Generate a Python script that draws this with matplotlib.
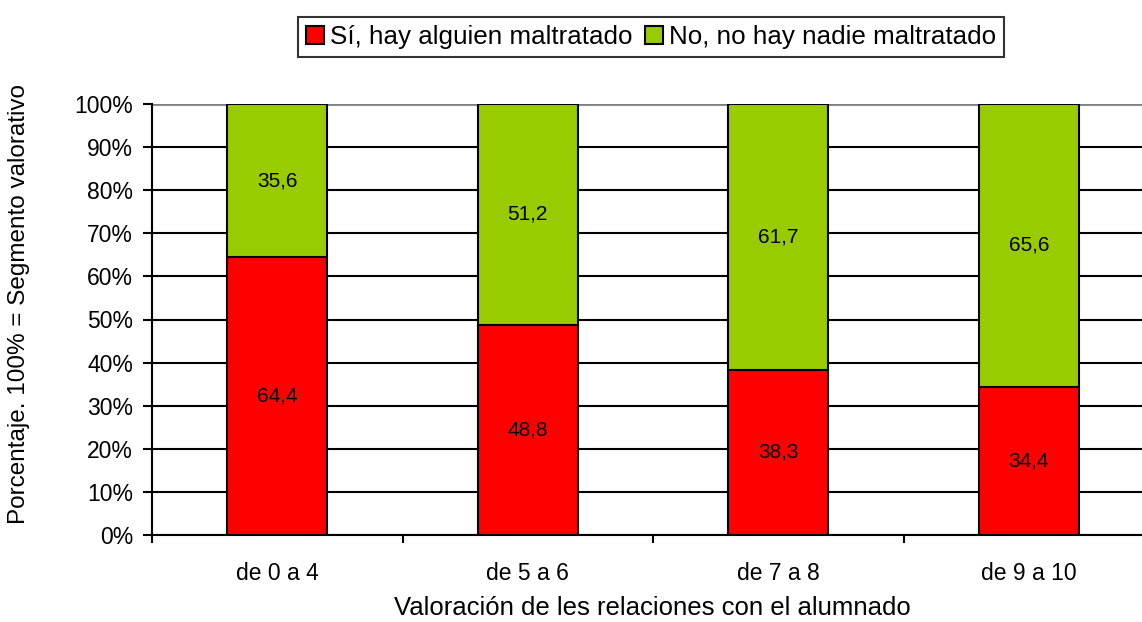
import numpy as np
import matplotlib
matplotlib.use("Agg")
import matplotlib.pyplot as plt
from matplotlib.ticker import FixedLocator, FuncFormatter

plt.rcParams['font.family'] = ['Liberation Sans', 'DejaVu Sans']

categorias = ["de 0 a 4", "de 5 a 6", "de 7 a 8", "de 9 a 10"]
si_maltratado = [64.4, 48.8, 38.3, 34.4]
no_maltratado = [35.6, 51.2, 61.7, 65.6]
etiquetas_serie = ["Sí, hay alguien maltratado", "No, no hay nadie maltratado"]

W, H = 1142, 622
fig = plt.figure(figsize=(W / 100, H / 100), dpi=100)
# axes runs past the right edge of the image, like the original
ax = fig.add_axes([152 / W, 1 - 535 / H, (1154 - 152) / W, (535 - 104) / H])

x = np.arange(len(categorias))
ancho = 0.4
b1 = ax.bar(x, si_maltratado, ancho, color='#ff0000', edgecolor='black',
            linewidth=1.5, label=etiquetas_serie[0], zorder=3)
b2 = ax.bar(x, no_maltratado, ancho, bottom=si_maltratado, color='#99cc00',
            edgecolor='black', linewidth=1.5, label=etiquetas_serie[1], zorder=3)

for rect, v in zip(b1, si_maltratado):
    ax.text(rect.get_x() + rect.get_width() / 2, v / 2, f"{v:.1f}".replace('.', ','),
            ha='center', va='center', fontsize=15, zorder=4)
for rect, base, v in zip(b2, si_maltratado, no_maltratado):
    ax.text(rect.get_x() + rect.get_width() / 2, base + v / 2, f"{v:.1f}".replace('.', ','),
            ha='center', va='center', fontsize=15, zorder=4)

ax.set_xlim(-0.5, len(categorias) - 0.5)
ax.set_ylim(0, 100)

ax.set_yticks(np.arange(0, 101, 10))
ax.yaxis.set_major_formatter(FuncFormatter(lambda v, p: f"{int(v)}%"))
ax.tick_params(axis='y', direction='out', length=6.5, width=1.5, pad=7, labelsize=16.5)

ax.set_xticks(x)
ax.set_xticklabels(categorias)
ax.xaxis.set_minor_locator(FixedLocator(np.arange(-0.5, len(categorias), 1.0)))
ax.tick_params(axis='x', which='major', length=0, pad=19.5, labelsize=16.5)
ax.tick_params(axis='x', which='minor', direction='out', length=6, width=1.5)

ax.set_axisbelow(True)
ax.grid(axis='y', color='black', linewidth=1.5, zorder=0)
ax.get_ygridlines()[-1].set_color('#808080')
ax.get_ygridlines()[-1].set_linewidth(2)

for s in ['top', 'right']:
    ax.spines[s].set_visible(False)
for s in ['left', 'bottom']:
    ax.spines[s].set_linewidth(1.5)
    ax.spines[s].set_zorder(5)

ax.set_xlabel("Valoración de les relaciones con el alumnado", fontsize=18.5)
ax.xaxis.set_label_coords(0.499, (535 - 608) / 431, transform=ax.transAxes)
ax.xaxis.label.set_va('center')
ax.set_ylabel("Porcentaje. 100% = Segmento valorativo", fontsize=17.5)
ax.yaxis.label.set_va('center')
ax.yaxis.set_label_coords((19 - 152) / 1002, (535 - 304) / 431)

leg = fig.legend(loc='center', bbox_to_anchor=(651 / W, 1 - 37 / H), ncol=2,
                 fontsize=18.7, frameon=True, fancybox=False, edgecolor='black',
                 handlelength=0.7, handleheight=0.7, handletextpad=0.25,
                 columnspacing=0.45, borderpad=0.3)
leg.get_frame().set_linewidth(1.5)

fig.savefig("out.png", dpi=100)
